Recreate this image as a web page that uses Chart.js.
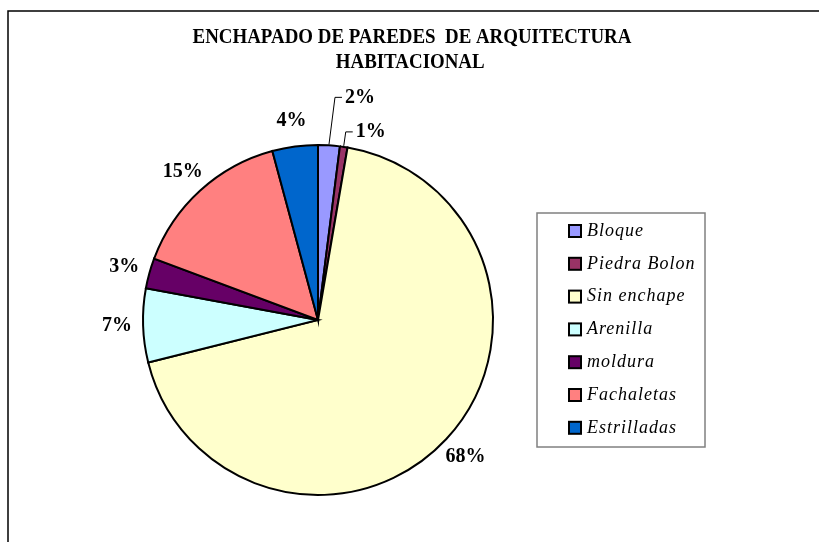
<!DOCTYPE html>
<html>
<head>
<meta charset="utf-8">
<title>Enchapado de paredes</title>
<script src="https://cdn.jsdelivr.net/npm/chart.js@4.4.1/dist/chart.umd.min.js"></script>
<style>
    html, body { margin: 0; padding: 0; background: #ffffff; }
    #wrap { position: relative; width: 819px; height: 542px; }
</style>
</head>
<body>
<div id="wrap">
    <canvas id="enchapadoChart" width="819" height="542"></canvas>
</div>
<script>
// datos
const categorias = ['Bloque', 'Piedra Bolon', 'Sin enchape', 'Arenilla', 'moldura', 'Fachaletas', 'Estrilladas'];
const porcentajes = [2.0, 0.7, 68.4, 6.8, 2.8, 15.1, 4.2];
const colores = ['#9999FF', '#993366', '#FFFFCC', '#CCFFFF', '#660066', '#FF8080', '#0066CC'];
const tituloLineas = ['ENCHAPADO DE PAREDES  DE ARQUITECTURA', 'HABITACIONAL'];

const SERIF = '"Liberation Serif", "Times New Roman", "DejaVu Serif", serif';

// marco exterior (solo se ve izquierda y arriba)
const framePlugin = {
    id: 'frame',
    beforeDraw(chart) {
        const ctx = chart.ctx;
        ctx.save();
        ctx.fillStyle = '#ffffff';
        ctx.fillRect(0, 0, chart.width, chart.height);
        ctx.strokeStyle = '#000000';
        ctx.lineWidth = 1.5;
        ctx.beginPath();
        ctx.moveTo(8, chart.height + 5);
        ctx.lineTo(8, 11);
        ctx.lineTo(chart.width + 5, 11);
        ctx.stroke();
        ctx.restore();
    }
};

// titulo en dos lineas (letra estrecha como en Excel)
const titlePlugin = {
    id: 'tituloExcel',
    afterDraw(chart) {
        const ctx = chart.ctx;
        ctx.save();
        ctx.font = 'bold 21px ' + SERIF;
        ctx.fillStyle = '#000000';
        ctx.textAlign = 'center';
        ctx.textBaseline = 'middle';
        ctx.translate(412, 0);
        ctx.scale(0.9, 1);
        ctx.fillText(tituloLineas[0], 0, 38);
        ctx.fillText(tituloLineas[1], -2, 63);
        ctx.restore();
    }
};

// etiquetas de porcentaje fuera del pastel
const callouts = {
    0: { dx: 16, dy: -48 },
    1: { dx: 12, dy: -15 }
};

const pctLabelPlugin = {
    id: 'pctLabels',
    afterDatasetsDraw(chart) {
        const ctx = chart.ctx;
        const meta = chart.getDatasetMeta(0);
        const data = chart.data.datasets[0].data;
        const total = data.reduce((s, v) => s + v, 0);
        ctx.save();
        ctx.font = 'bold 20px ' + SERIF;
        ctx.fillStyle = '#000000';
        ctx.strokeStyle = '#000000';
        ctx.lineWidth = 1;
        meta.data.forEach((arc, i) => {
            const mid = (arc.startAngle + arc.endAngle) / 2;
            const txt = Math.round(data[i] / total * 100) + '%';
            const cos = Math.cos(mid), sin = Math.sin(mid);
            if (callouts[i]) {
                const ex = arc.x + arc.outerRadius * cos;
                const ey = arc.y + arc.outerRadius * sin;
                const tx = ex + callouts[i].dx;
                const ty = ey + callouts[i].dy;
                ctx.beginPath();
                ctx.moveTo(ex, ey - 1);
                ctx.lineTo(tx - 10, ty);
                ctx.lineTo(tx - 3, ty);
                ctx.stroke();
                ctx.textAlign = 'left';
                ctx.textBaseline = 'middle';
                ctx.fillText(txt, tx, ty);
            } else {
                const r = arc.outerRadius + 26;
                ctx.textAlign = 'center';
                ctx.textBaseline = 'middle';
                ctx.fillText(txt, arc.x + r * cos, arc.y + r * sin);
            }
        });
        ctx.restore();
    }
};

// leyenda con recuadro
const legendPlugin = {
    id: 'leyendaExcel',
    afterDraw(chart) {
        const ctx = chart.ctx;
        const box = { x: 537, y: 213, w: 168, h: 234 };
        ctx.save();
        ctx.strokeStyle = '#808080';
        ctx.lineWidth = 1.5;
        ctx.strokeRect(box.x, box.y, box.w, box.h);
        ctx.font = 'italic 18px ' + SERIF;
        ctx.letterSpacing = '1px';
        ctx.textAlign = 'left';
        ctx.textBaseline = 'middle';
        chart.data.labels.forEach((lab, i) => {
            const y = 231 + i * 32.8;
            ctx.fillStyle = chart.data.datasets[0].backgroundColor[i];
            ctx.fillRect(569, y - 6, 12, 12);
            ctx.strokeStyle = '#000000';
            ctx.lineWidth = 2;
            ctx.strokeRect(569, y - 6, 12, 12);
            ctx.fillStyle = '#000000';
            ctx.fillText(lab, 587, y);
        });
        ctx.restore();
    }
};

new Chart(document.getElementById('enchapadoChart'), {
    type: 'pie',
    data: {
        labels: categorias,
        datasets: [{
            data: porcentajes,
            backgroundColor: colores,
            borderColor: '#000000',
            borderWidth: 2,
            borderJoinStyle: 'miter'
        }]
    },
    options: {
        responsive: false,
        animation: false,
        events: [],
        layout: {
            padding: { left: 142, right: 325, top: 144, bottom: 46 }
        },
        plugins: {
            legend: { display: false },
            title: { display: false },
            tooltip: { enabled: false }
        }
    },
    plugins: [framePlugin, titlePlugin, pctLabelPlugin, legendPlugin]
});
</script>
</body>
</html>
